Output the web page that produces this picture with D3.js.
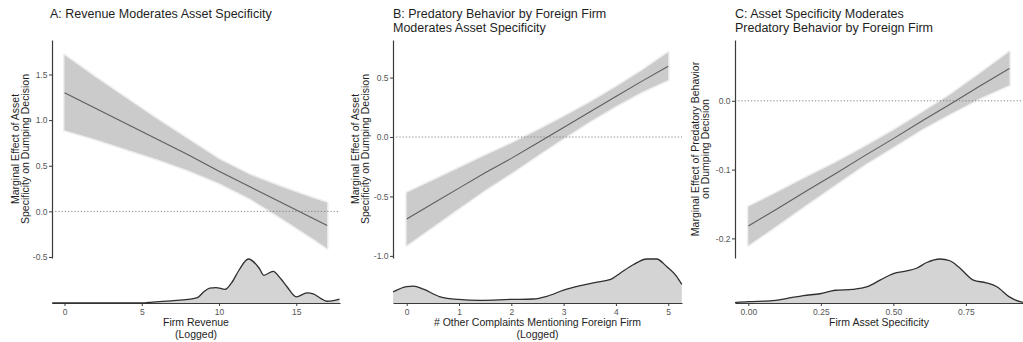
<!DOCTYPE html>
<html>
<head>
<meta charset="utf-8">
<script src="https://cdn.jsdelivr.net/npm/d3@7"></script>
<style>
  body { margin: 0; background: #fff; }
  svg { display: block; }
  text { font-family: "Liberation Sans", Arial, Helvetica, sans-serif; }
</style>
</head>
<body>
<svg id="chart" width="1023" height="342"></svg>
<script>
// ---------- Panel A: revenue moderates asset specificity ----------
const revenueX      = [0, 2, 4, 6, 8, 10, 12, 14, 16, 17];
const revenueEffect = [1.30, 1.13, 0.96, 0.79, 0.62, 0.44, 0.27, 0.10, -0.07, -0.155];
const revenueLower  = [0.89, 0.79, 0.68, 0.57, 0.45, 0.31, 0.14, -0.07, -0.29, -0.405];
const revenueUpper  = [1.71, 1.47, 1.24, 1.01, 0.79, 0.57, 0.40, 0.27, 0.15, 0.095];
const revenueDensX  = [-0.8, 5.0, 5.7, 6.9, 8.0, 8.6, 9.0, 9.4, 9.8, 10.4, 10.8, 11.3, 11.9, 12.6, 12.9, 13.5, 14.0, 14.4, 15.0, 15.7, 16.1, 16.6, 17.0, 17.8];
const revenueDensY  = [0, 0, 0.02, 0.05, 0.08, 0.12, 0.25, 0.34, 0.35, 0.31, 0.45, 0.75, 1.0, 0.79, 0.63, 0.72, 0.55, 0.37, 0.14, 0.23, 0.21, 0.10, 0.04, 0.09];
const revenueXTicks = [0, 5, 10, 15];
const revenueYTicks = [-0.5, 0.0, 0.5, 1.0, 1.5];

// ---------- Panel B: predatory behaviour moderates asset specificity ----------
const complaintsX      = [0, 0.5, 1, 1.5, 2, 2.5, 3, 3.5, 4, 4.5, 5];
const complaintsEffect = [-0.69, -0.56, -0.43, -0.30, -0.18, -0.05, 0.08, 0.21, 0.34, 0.47, 0.595];
const complaintsLower  = [-0.91, -0.755, -0.60, -0.445, -0.305, -0.155, -0.01, 0.13, 0.26, 0.38, 0.48];
const complaintsUpper  = [-0.47, -0.365, -0.26, -0.155, -0.055, 0.055, 0.17, 0.29, 0.42, 0.56, 0.71];
const complaintsDensX  = [-0.26, 0, 0.13, 0.32, 0.64, 0.99, 1.40, 1.99, 2.42, 2.68, 3.0, 3.32, 3.64, 3.9, 4.08, 4.33, 4.59, 4.78, 4.97, 5.16, 5.26];
const complaintsDensY  = [0.25, 0.37, 0.38, 0.31, 0.14, 0.08, 0.06, 0.08, 0.09, 0.15, 0.29, 0.39, 0.47, 0.53, 0.67, 0.86, 0.99, 0.99, 0.82, 0.60, 0.42];
const complaintsXTicks = [0, 1, 2, 3, 4, 5];
const complaintsYTicks = [-1.0, -0.5, 0.0, 0.5];

// ---------- Panel C: asset specificity moderates predatory behaviour ----------
const specificityX      = [0, 0.1, 0.2, 0.3, 0.4, 0.5, 0.6, 0.7, 0.8, 0.9];
const specificityEffect = [-0.182, -0.157, -0.131, -0.106, -0.080, -0.055, -0.029, -0.004, 0.022, 0.047];
const specificityLower  = [-0.210, -0.181, -0.151, -0.122, -0.093, -0.067, -0.041, -0.018, 0.004, 0.023];
const specificityUpper  = [-0.154, -0.133, -0.111, -0.090, -0.067, -0.043, -0.017, 0.010, 0.040, 0.071];
const specificityDensX  = [-0.046, 0.0, 0.075, 0.13, 0.19, 0.247, 0.30, 0.36, 0.41, 0.454, 0.50, 0.546, 0.58, 0.615, 0.661, 0.695, 0.73, 0.776, 0.82, 0.857, 0.90, 0.937, 0.947];
const specificityDensY  = [0.01, 0.03, 0.05, 0.10, 0.17, 0.21, 0.29, 0.31, 0.37, 0.52, 0.67, 0.73, 0.79, 0.92, 1.0, 0.96, 0.79, 0.52, 0.46, 0.37, 0.14, 0.03, 0.015];
const specificityXTicks = [0, 0.25, 0.5, 0.75];
const specificityYTicks = [-0.2, -0.1, 0.0];

// ---------- layout of the three panels ----------
const panels = [
  {
    title: ["A: Revenue Moderates Asset Specificity"],
    yTitle: ["Marginal Effect of Asset", "Specificity on Dumping Decision"],
    xTitle: ["Firm Revenue", "(Logged)"],
    x: revenueX, effect: revenueEffect, lower: revenueLower, upper: revenueUpper,
    densX: revenueDensX, densY: revenueDensY,
    xTicks: revenueXTicks, yTicks: revenueYTicks,
    xFmt: d => String(d), yFmt: d => d.toFixed(1),
    left: 52, right: 340, xDomain: [-0.81, 17.83], yDomain: [-0.511, 1.878],
    yTitleX: 18.7, titleX: 50
  },
  {
    title: ["B: Predatory Behavior by Foreign Firm", "Moderates Asset Specificity"],
    yTitle: ["Marginal Effect of Asset", "Specificity on Dumping Decision"],
    xTitle: ["# Other Complaints Mentioning Foreign Firm", "(Logged)"],
    x: complaintsX, effect: complaintsEffect, lower: complaintsLower, upper: complaintsUpper,
    densX: complaintsDensX, densY: complaintsDensY,
    xTicks: complaintsXTicks, yTicks: complaintsYTicks,
    xFmt: d => String(d), yFmt: d => d.toFixed(1),
    left: 393, right: 682, xDomain: [-0.262, 5.264], yDomain: [-1.018, 0.816],
    yTitleX: 358.7, titleX: 393
  },
  {
    title: ["C: Asset Specificity Moderates", "Predatory Behavior by Foreign Firm"],
    yTitle: ["Marginal Effect of Predatory Behavior", "on Dumping Decision"],
    xTitle: ["Firm Asset Specificity"],
    x: specificityX, effect: specificityEffect, lower: specificityLower, upper: specificityUpper,
    densX: specificityDensX, densY: specificityDensY,
    xTicks: specificityXTicks, yTicks: specificityYTicks,
    xFmt: d => d.toFixed(2), yFmt: d => d.toFixed(1),
    left: 735, right: 1023, xDomain: [-0.046, 0.947], yDomain: [-0.2285, 0.0884],
    yTitleX: 698.7, titleX: 735
  }
];

const plotTop = 40, plotBottom = 258;      // marginal-effect panel
const densBase = 303, densPeak = 259;      // density strip under each panel
const axisColor = "#3a3a3a";

const svg = d3.select("#chart");

panels.forEach(p => {
  const g = svg.append("g");
  const x = d3.scaleLinear().domain(p.xDomain).range([p.left, p.right]);
  const y = d3.scaleLinear().domain(p.yDomain).range([plotBottom, plotTop]);
  const yD = d3.scaleLinear().domain([0, d3.max(p.densY)]).range([densBase, densPeak]);

  // panel title
  const t = g.append("text").attr("x", p.titleX).attr("y", 18.3)
    .attr("font-size", 12.5).attr("fill", "#1e1e1e");
  p.title.forEach((line, i) => t.append("tspan").attr("x", p.titleX).attr("dy", i ? 13.4 : 0).text(line));

  // confidence band with a faint halo
  const rows = p.x.map((v, i) => ({ x: v, lo: p.lower[i], hi: p.upper[i], m: p.effect[i] }));
  const band = d3.area().x(d => x(d.x)).y0(d => y(d.lo)).y1(d => y(d.hi));
  g.append("path").datum(rows).attr("d", band)
    .attr("fill", "#cbcbcb").attr("stroke", "#eeeeee").attr("stroke-width", 3)
    .attr("stroke-linejoin", "round");
  g.append("path").datum(rows).attr("d", band).attr("fill", "#cbcbcb");

  // zero reference line
  g.append("line")
    .attr("x1", p.left).attr("x2", p.right).attr("y1", y(0)).attr("y2", y(0))
    .attr("stroke", "#808080").attr("stroke-width", 1).attr("stroke-dasharray", "1.2,2");

  // marginal effect line
  g.append("path").datum(rows)
    .attr("d", d3.line().x(d => x(d.x)).y(d => y(d.m)))
    .attr("fill", "none").attr("stroke", "#5e5e5e").attr("stroke-width", 1.1);

  // y axis
  const ya = g.append("g").attr("transform", `translate(${p.left},0)`)
    .call(d3.axisLeft(y).tickValues(p.yTicks).tickFormat(p.yFmt).tickSize(3).tickSizeOuter(0));
  ya.select(".domain").attr("stroke", axisColor).attr("stroke-width", 1.2);
  ya.selectAll(".tick line").attr("stroke", axisColor);
  ya.selectAll(".tick text").attr("fill", "#555").attr("font-size", 8.5)
    .attr("font-family", "Liberation Sans, Arial, sans-serif").attr("x", -4.5);

  // y axis title
  const yt = g.append("text")
    .attr("transform", `translate(${p.yTitleX},${(plotTop + plotBottom) / 2}) rotate(-90)`)
    .attr("text-anchor", "middle").attr("font-size", 10.5).attr("fill", "#1e1e1e");
  p.yTitle.forEach((line, i) => yt.append("tspan").attr("x", 0).attr("dy", i ? 10.8 : 0).text(line));

  // density of the moderator
  const dens = p.densX.map((v, i) => ({ x: v, d: p.densY[i] }));
  g.append("path").datum(dens)
    .attr("d", d3.area().curve(d3.curveMonotoneX).x(d => x(d.x)).y0(densBase).y1(d => yD(d.d)))
    .attr("fill", "#d4d4d4");

  // x axis under the density
  const xa = g.append("g").attr("transform", `translate(0,${densBase})`)
    .call(d3.axisBottom(x).tickValues(p.xTicks).tickFormat(p.xFmt).tickSize(3).tickSizeOuter(0));
  xa.select(".domain").attr("stroke", axisColor).attr("stroke-width", 1.2);
  xa.selectAll(".tick line").attr("stroke", axisColor);
  xa.selectAll(".tick text").attr("fill", "#555").attr("font-size", 8.5)
    .attr("font-family", "Liberation Sans, Arial, sans-serif").attr("y", 5.5);

  g.append("path").datum(dens)
    .attr("d", d3.line().curve(d3.curveMonotoneX).x(d => x(d.x)).y(d => yD(d.d)))
    .attr("fill", "none").attr("stroke", "#2f2f2f").attr("stroke-width", 1.3);

  // x axis title
  const xt = g.append("text").attr("x", (p.left + p.right) / 2).attr("y", 325.5)
    .attr("text-anchor", "middle").attr("font-size", 10.5).attr("fill", "#1e1e1e");
  p.xTitle.forEach((line, i) => xt.append("tspan").attr("x", (p.left + p.right) / 2).attr("dy", i ? 12.4 : 0).text(line));
});
</script>
</body>
</html>
